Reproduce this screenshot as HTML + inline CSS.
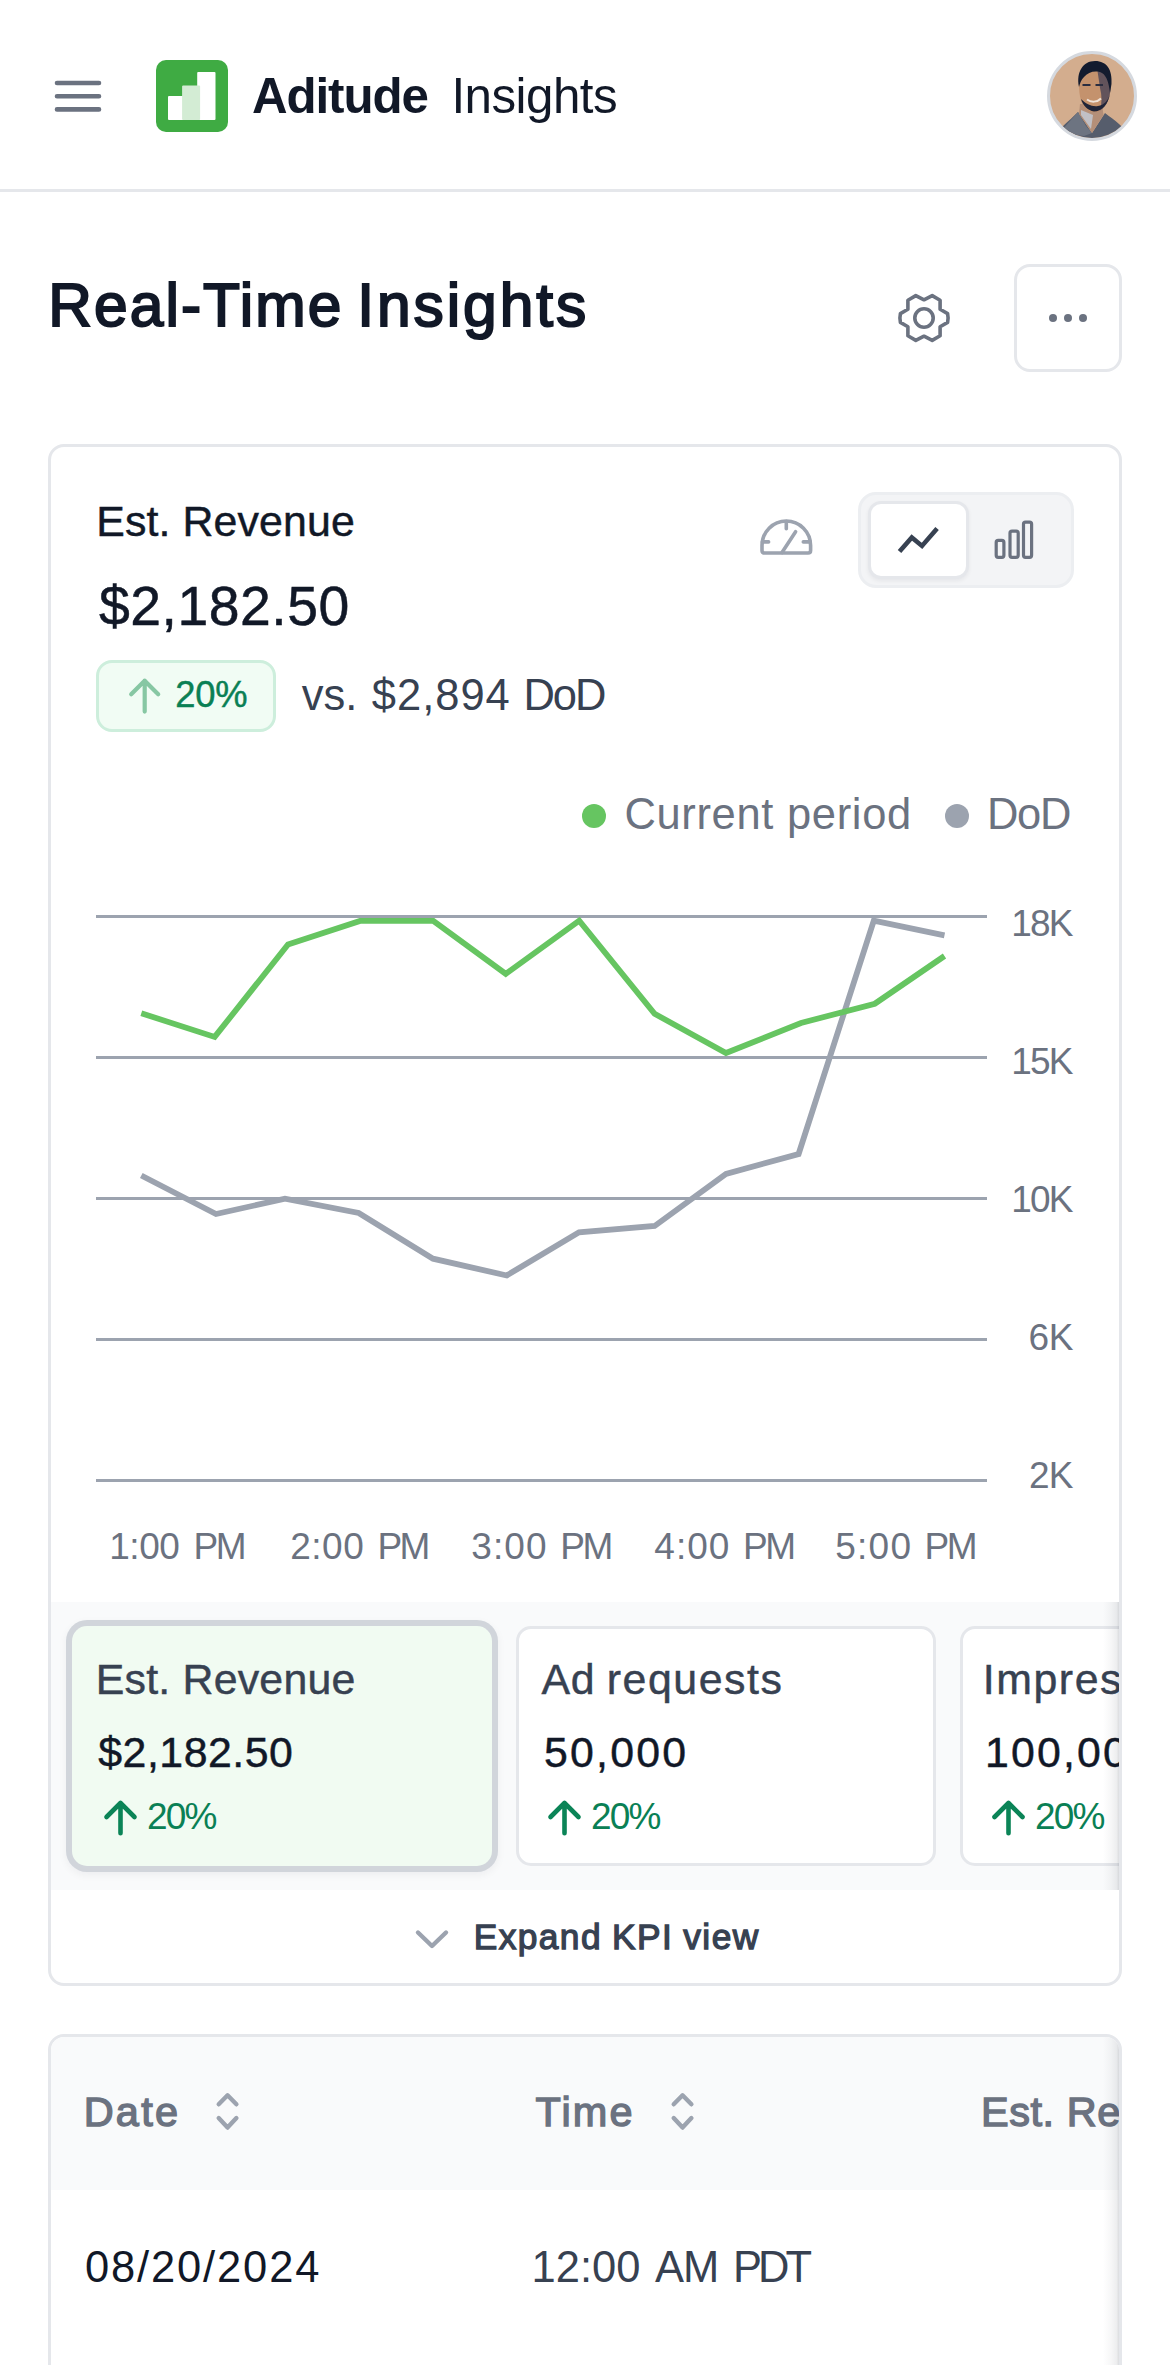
<!DOCTYPE html>
<html lang="en">
<head>
<meta charset="utf-8">
<title>Aditude Insights</title>
<style>
*{box-sizing:border-box;margin:0;padding:0}
html,body{width:1170px;height:2365px;overflow:hidden;background:#fff}
body{position:relative;font-family:"Liberation Sans",Arial,sans-serif;color:#111827}
.a{position:absolute}
.t{position:absolute;white-space:nowrap;line-height:1}
.b{font-weight:bold}
.m{-webkit-text-stroke:0.7px currentColor}
svg{position:absolute;overflow:visible}
</style>
</head>
<body>
<!-- HEADER -->
<div class="a" id="hdrline" style="left:0;top:189px;width:1170px;height:3px;background:#e5e7eb"></div>
<svg id="burger" style="left:0;top:0" width="160" height="160"><g stroke="#6b7280" stroke-width="4.6" stroke-linecap="round"><path d="M57 83H99M57 96.2H99M57 109.4H99"/></g></svg>
<svg id="logo" style="left:156px;top:60px" width="72" height="72" viewBox="0 0 72 72"><rect width="72" height="72" rx="10" fill="#3fab43"/><rect x="12" y="36" width="19.3" height="24" rx="1" fill="#fff"/><rect x="41.2" y="12" width="18.3" height="48" rx="1" fill="#fff"/><rect x="26.1" y="25.6" width="18" height="34.4" rx="1" fill="#d3ecd4"/></svg>
<div class="t b" id="brand" style="left:252.00px;top:70.66px;font-size:49.3px;letter-spacing:-1.108px;color:#111827">Aditude</div>
<div class="t" id="brand2" style="left:451.40px;top:70.66px;font-size:49.3px;letter-spacing:-0.520px;color:#111827">Insights</div>
<div class="a" id="avatar" style="left:1047px;top:51px;width:90px;height:90px;border-radius:50%;background:#d3ad8e;border:3px solid #d5d9df;overflow:hidden">
<svg style="left:0;top:0" width="84" height="84" viewBox="0 0 84 84">
<path d="M4 84C9 74 18 68 28 58L42 79L55 59C64 66 75 73 80 84Z" fill="#565d6c"/>
<path d="M28 58L36 72L42 79L34 82L20 80L12 76Z" fill="#6d7481"/>
<path d="M30 50H52L53.500 61L42 79L29 60Z" fill="#b48f78"/>
<path d="M31 56L43 61L41 75L31 61Z" fill="#c3c9d2" opacity=".85"/>
<path d="M29 30C29 18 35 12 45 12C55 12 60.500 20 60.500 32C60.500 44 57 52 50 56.500C46 59 40 58.500 36 55C31 50 29 42 29 30Z" fill="#c4926d"/>
<path d="M47 14C56 15 60.500 22 60.500 32C60.500 44 57 52 50 56.500C52 49 52 42 50 34C49 27 48 20 47 14Z" fill="#4a4356" opacity=".8"/>
<path d="M31 45C33 52 38 56.500 44 57.500C52 57.500 58 50 60 40C58 47 54 51 48 52C42 53 36 50 31 45Z" fill="#1f2438"/>
<path d="M29 33C26 18 33 7 45 7C57 7 62.500 16 61.500 30L60 39C59 30 57 22 52 19C46 16 38 18 34 23C31 26 30 29 29 33Z" fill="#131b2e"/>
<path d="M32.500 31H40.500M45.500 31H53" stroke="#2a2d40" stroke-width="2.200" fill="none"/>
<path d="M37 45.500C41 48.500 47 48.500 51 44.500" stroke="#efe2d8" stroke-width="2" fill="none"/>
</svg></div>

<!-- TITLE -->
<div class="t" id="title" style="left:0;top:275.48px;font-size:60.49px;-webkit-text-stroke:2px #111827;color:#111827"><span style="position:absolute;left:48.30px;top:0;letter-spacing:2.055px">Real-Time</span> <span style="position:absolute;left:357.20px;top:0;letter-spacing:2.942px">Insights</span></div>
<svg id="gear" style="left:924px;top:317.9px" width="1" height="1"><g fill="none" stroke="#6b7280" stroke-width="3.6" stroke-linejoin="round"><path d="M0 -18.2L8.2 -22.4L16.1 -17.8L16.1 -8.7L23.6 -4.4Q24.6 0 23.6 4.4L16.1 8.7L16.1 17.8L8.2 22.4L0 18.2L-8.2 22.4L-16.1 17.8L-16.1 8.7L-23.6 4.4Q-24.6 0 -23.6 -4.4L-16.1 -8.7L-16.1 -17.8L-8.2 -22.4Z"/><circle cx="0" cy="0" r="9.2"/></g></svg>
<div class="a" id="morebtn" style="left:1014px;top:264px;width:108px;height:108px;border:3px solid #e5e7eb;border-radius:16px;background:#fff"></div>
<svg id="dots" style="left:1014px;top:264px" width="108" height="108"><g fill="#6b7280"><circle cx="39" cy="54" r="4"/><circle cx="54" cy="54" r="4"/><circle cx="69" cy="54" r="4"/></g></svg>

<!-- CARD 1 -->
<div class="a" id="card1" style="left:48px;top:444px;width:1074px;height:1542px;border:3px solid #e5e7eb;border-radius:16px;background:#fff"></div>
<div class="t" id="c1label" style="left:96.32px;top:499.92px;font-size:42.85px;letter-spacing:0.125px;-webkit-text-stroke:0.45px #111827;word-spacing:-0.107px;color:#111827">Est. Revenue</div>
<div class="t" id="c1value" style="left:99.05px;top:579.42px;font-size:55.37px;letter-spacing:0.489px;-webkit-text-stroke:0.5px #111827;color:#111827">$2,182.50</div>
<div class="a" id="badge" style="left:96px;top:660px;width:180px;height:72px;border:3px solid #cdeedc;border-radius:16px;background:#f1fcf4"></div>
<svg id="badgearrow" style="left:126px;top:675px" width="40" height="42" viewBox="0 0 40 42"><path d="M18.7 36.6V5.7M5.2 19.2L18.7 5.7L32.2 19.2" fill="none" stroke="#87c7a3" stroke-width="4.2" stroke-linecap="round" stroke-linejoin="round"/></svg>
<div class="t" id="badgetxt" style="left:175.22px;top:676.82px;font-size:36.35px;letter-spacing:-0.229px;-webkit-text-stroke:0.45px #0a8055;color:#0a8055">20%</div>
<div class="t" id="vs" style="left:0;top:674.47px;font-size:43.5px;color:#374151"><span style="position:absolute;left:301.80px;top:0;letter-spacing:0.000px">vs.</span> <span style="position:absolute;left:371.80px;top:0;letter-spacing:0.989px">$2,894</span> <span style="position:absolute;left:523.40px;top:0;letter-spacing:-2.003px">DoD</span></div>
<svg id="gauge" style="left:756px;top:514px" width="62" height="46" viewBox="0 0 62 46"><g fill="none" stroke="#9ca3af" stroke-width="3.6" stroke-linecap="round" stroke-linejoin="round"><path d="M6 36.5V31.5A24.3 24.5 0 0 1 54.6 31.5V36.5Q54.6 39 52.1 39H8.5Q6 39 6 36.5Z"/><path d="M26 38.5L39.6 17.7"/><path d="M30.3 7.500V14.8M6.5 27.9H12.600M47.3 27.9H54.1"/></g></svg>
<div class="a" id="toggle" style="left:858px;top:492px;width:216px;height:96px;border-radius:18px;background:#f3f4f6;border:3px solid #eceef1"></div>
<div class="a" id="toggleon" style="left:867.5px;top:501px;width:101.5px;height:78px;border-radius:13px;background:#fff;border:3px solid #e5e7eb;box-shadow:0 2px 4px rgba(16,24,40,.06)"></div>
<svg id="lineicon" style="left:890px;top:515px" width="60" height="50"><path d="M9.5 36.6L21.8 22.4L32 30.9L47.1 13.5" fill="none" stroke="#374151" stroke-width="4.6" stroke-linejoin="miter"/></svg>
<svg id="baricon" style="left:990px;top:515px" width="50" height="50"><g fill="none" stroke="#6b7280" stroke-width="3.2"><rect x="6.2" y="25.4" width="7.7" height="16.9" rx="2"/><rect x="20" y="16.1" width="8.2" height="26.2" rx="2"/><rect x="33.5" y="7.1" width="8.1" height="35.2" rx="2"/></g></svg>

<!-- legend -->
<div class="a" id="lg1" style="left:582px;top:803.5px;width:24px;height:24px;border-radius:50%;background:#66c561"></div>
<div class="t" id="lgt1" style="left:624.40px;top:793.47px;font-size:43.5px;letter-spacing:0.662px;word-spacing:0.140px;color:#6b7280">Current period</div>
<div class="a" id="lg2" style="left:945.4px;top:803.5px;width:24px;height:24px;border-radius:50%;background:#9ca3af"></div>
<div class="t" id="lgt2" style="left:987.00px;top:793.47px;font-size:43.5px;letter-spacing:-1.303px;color:#6b7280">DoD</div>

<!-- chart -->
<svg id="chart" style="left:0;top:0" width="1170" height="1600">
<g stroke="#9ca3af" stroke-width="3"><path d="M96 916.5H987M96 1057.5H987M96 1198.5H987M96 1339.5H987M96 1480.5H987"/></g>
<polyline fill="none" stroke="#9ca3af" stroke-width="5.8" stroke-linejoin="miter" points="141.3,1175.5 216,1214 285,1198.7 358.7,1213 433,1258.7 506.7,1275.5 579,1232.3 654.6,1226 726,1174 798.600,1154 873.800,920.600 944.5,935.4"/>
<polyline fill="none" stroke="#66c561" stroke-width="5.8" stroke-linejoin="miter" points="141.3,1013.3 214.7,1036.9 288,944.4 360,920.9 433.3,920.9 505.800,973.800 579.2,920.7 654.600,1013.800 726,1053 801,1023 874.800,1003.7 944.5,956"/>
</svg>
<div class="t" id="y0" style="left:1011.20px;top:904.57px;font-size:37px;letter-spacing:-1.828px;color:#6b7280">18K</div><div class="t" id="y1" style="left:1011.20px;top:1042.60px;font-size:37px;letter-spacing:-1.828px;color:#6b7280">15K</div><div class="t" id="y2" style="left:1011.20px;top:1180.63px;font-size:37px;letter-spacing:-1.828px;color:#6b7280">10K</div><div class="t" id="y3" style="left:1028.50px;top:1318.66px;font-size:37px;letter-spacing:-0.378px;color:#6b7280">6K</div><div class="t" id="y4" style="left:1029.00px;top:1456.69px;font-size:37px;letter-spacing:-0.878px;color:#6b7280">2K</div>
<div class="t" id="x0" style="left:0;top:1528.07px;font-size:37px;color:#6b7280"><span style="position:absolute;left:109.20px;top:0;letter-spacing:-0.445px">1:00</span> <span style="position:absolute;left:193.50px;top:0;letter-spacing:-2.479px">PM</span></div><div class="t" id="x1" style="left:0;top:1528.07px;font-size:37px;color:#6b7280"><span style="position:absolute;left:290.20px;top:0;letter-spacing:0.522px">2:00</span> <span style="position:absolute;left:377.40px;top:0;letter-spacing:-2.479px">PM</span></div><div class="t" id="x2" style="left:0;top:1528.07px;font-size:37px;color:#6b7280"><span style="position:absolute;left:471.20px;top:0;letter-spacing:1.122px">3:00</span> <span style="position:absolute;left:560.20px;top:0;letter-spacing:-2.479px">PM</span></div><div class="t" id="x3" style="left:0;top:1528.07px;font-size:37px;color:#6b7280"><span style="position:absolute;left:654.30px;top:0;letter-spacing:1.022px">4:00</span> <span style="position:absolute;left:743.00px;top:0;letter-spacing:-2.479px">PM</span></div><div class="t" id="x4" style="left:0;top:1528.07px;font-size:37px;color:#6b7280"><span style="position:absolute;left:835.30px;top:0;letter-spacing:1.222px">5:00</span> <span style="position:absolute;left:924.60px;top:0;letter-spacing:-2.479px">PM</span></div>

<!-- KPI strip -->
<div class="a" id="strip" style="left:51px;top:1602px;width:1068px;height:288px;background:#f9fafb;overflow:hidden"><div class="a" style="left:-51px;top:-1602px;width:1170px;height:2365px">
  <div class="a" id="k1" style="left:72px;top:1626px;width:420px;height:240px;border-radius:15px;background:#f1fbf2;box-shadow:0 0 0 6px #d1d5db,0 3px 9px 6px rgba(16,24,40,.05)"></div>
  <div class="a" id="k2" style="left:516px;top:1626px;width:420px;height:240px;border-radius:15px;background:#fff;border:3px solid #e5e7eb"></div>
  <div class="a" id="k3" style="left:960px;top:1626px;width:420px;height:240px;border-radius:15px;background:#fff;border:3px solid #e5e7eb"></div>
  <div class="t" id="k1l" style="left:95.72px;top:1658.32px;font-size:42.85px;letter-spacing:0.236px;-webkit-text-stroke:0.45px #374151;word-spacing:-0.134px;color:#374151">Est. Revenue</div><div class="t" id="k1v" style="left:98.22px;top:1730.72px;font-size:42.85px;letter-spacing:0.510px;-webkit-text-stroke:0.45px #111827;color:#111827">$2,182.50</div><div class="t" id="k1p" style="left:147.00px;top:1798.37px;font-size:37px;letter-spacing:-1.878px;color:#0a8055">20%</div>
  <div class="t" id="k2l" style="left:0;top:1658.32px;font-size:42.85px;-webkit-text-stroke:0.45px #374151;color:#374151"><span style="position:absolute;left:541.52px;top:0;letter-spacing:0.674px">Ad</span> <span style="position:absolute;left:606.73px;top:0;letter-spacing:1.564px">requests</span></div><div class="t" id="k2v" style="left:544.12px;top:1730.72px;font-size:42.85px;letter-spacing:2.167px;-webkit-text-stroke:0.45px #111827;color:#111827">50,000</div><div class="t" id="k2p" style="left:591.00px;top:1798.37px;font-size:37px;letter-spacing:-1.878px;color:#0a8055">20%</div>
  <div class="t" id="k3l" style="left:982.70px;top:1658.32px;font-size:42.85px;letter-spacing:1.564px;-webkit-text-stroke:0.45px #374151;color:#374151">Impressions</div><div class="t" id="k3v" style="left:985.00px;top:1730.72px;font-size:42.85px;letter-spacing:2.167px;-webkit-text-stroke:0.45px #111827;color:#111827">100,000</div><div class="t" id="k3p" style="left:1035.00px;top:1798.37px;font-size:37px;letter-spacing:-1.878px;color:#0a8055">20%</div>
  <svg style="left:101px;top:1798px" width="40" height="42" viewBox="0 0 40 42"><path id="arr" d="M19.5 35.2V5M5.5 19L19.5 5L33.5 19" fill="none" stroke="#0b8457" stroke-width="4.6" stroke-linecap="round" stroke-linejoin="round"/></svg>
  <svg style="left:545px;top:1798px" width="40" height="42" viewBox="0 0 40 42"><use href="#arr"/></svg>
  <svg style="left:989px;top:1798px" width="40" height="42" viewBox="0 0 40 42"><use href="#arr"/></svg>
  <div class="a" id="fade1" style="left:1103px;top:1602px;width:16px;height:288px;background:linear-gradient(to right,rgba(16,24,40,0) 0%,rgba(16,24,40,.035) 50%,rgba(16,24,40,.075) 85%,rgba(16,24,40,.15) 100%)"></div>
</div></div>
<svg id="chev" style="left:410px;top:1925px" width="44" height="30"><path d="M8 7.5L22 21L36 7.5" fill="none" stroke="#9ca3af" stroke-width="4.4" stroke-linecap="round" stroke-linejoin="round"/></svg>
<div class="t" id="expand" style="left:473.65px;top:1919.40px;font-size:35.31px;letter-spacing:1.443px;-webkit-text-stroke:1.3px #374151;word-spacing:-1.228px;color:#374151">Expand KPI view</div>

<!-- TABLE CARD -->
<div class="a" id="card2" style="left:48px;top:2034px;width:1074px;height:400px;border:3px solid #e5e7eb;border-radius:16px;background:#fff;overflow:hidden"><div class="a" style="left:-51px;top:-2037px;width:1170px;height:2437px">
  <div class="a" id="thead" style="left:51px;top:2037px;width:1068px;height:153px;background:#f9fafb"></div>
  <div class="t" id="thd" style="left:83.70px;top:2091.39px;font-size:41.47px;letter-spacing:2.223px;-webkit-text-stroke:1.4px #6b7280;color:#6b7280">Date</div><div class="t" id="tht" style="left:535.50px;top:2091.39px;font-size:41.47px;letter-spacing:2.184px;-webkit-text-stroke:1.4px #6b7280;color:#6b7280">Time</div><div class="t" id="thr" style="left:981.10px;top:2091.39px;font-size:41.47px;letter-spacing:0.505px;-webkit-text-stroke:1.4px #6b7280;word-spacing:0.293px;color:#6b7280">Est. Revenue</div>
  <svg id="sort1" style="left:209px;top:2090px" width="36" height="44"><path id="srt" d="M9.7 14.3L18.55 5.3L27.4 14.3M9.7 28.1L18.55 37.6L27.4 28.1" fill="none" stroke="#9ca3af" stroke-width="4.4" stroke-linecap="round" stroke-linejoin="round"/></svg>
  <svg id="sort2" style="left:664px;top:2090px" width="36" height="44"><use href="#srt"/></svg>
  <div class="t" id="td1" style="left:85.00px;top:2246.47px;font-size:43.5px;letter-spacing:1.853px;color:#111827">08/20/2024</div><div class="t" id="td2" style="left:0;top:2246.47px;font-size:43.5px;color:#374151"><span style="position:absolute;left:531.60px;top:0;letter-spacing:-0.016px">12:00</span> <span style="position:absolute;left:655.10px;top:0;letter-spacing:-1.114px">AM</span> <span style="position:absolute;left:733.00px;top:0;letter-spacing:-3.964px">PDT</span></div>
  <div class="a" id="fade" style="left:1103px;top:2037px;width:16px;height:400px;background:linear-gradient(to right,rgba(16,24,40,0) 0%,rgba(16,24,40,.035) 50%,rgba(16,24,40,.075) 85%,rgba(16,24,40,.15) 100%)"></div>
</div></div>
</body>
</html>
